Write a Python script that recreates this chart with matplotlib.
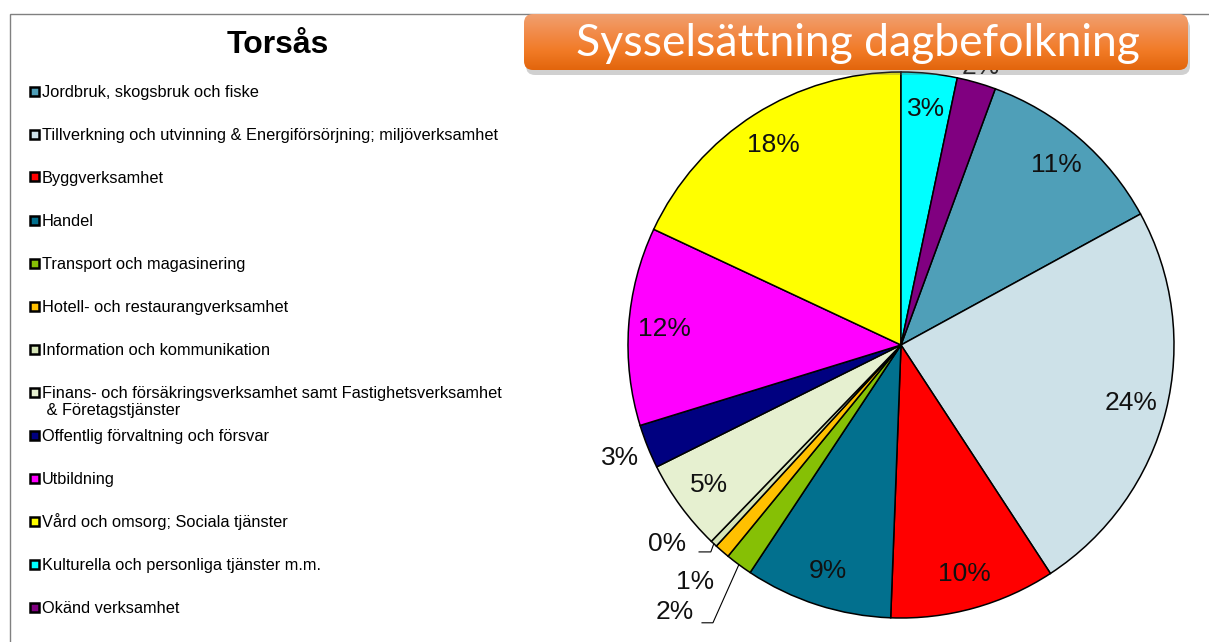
import matplotlib.pyplot as plt
import numpy as np
from matplotlib.patches import Rectangle, FancyBboxPatch
from matplotlib.colors import LinearSegmentedColormap

W, H = 1209, 642

# data (share of day population employment, %)
categories = [
    "Jordbruk, skogsbruk och fiske",
    "Tillverkning och utvinning & Energiförsörjning; miljöverksamhet",
    "Byggverksamhet",
    "Handel",
    "Transport och magasinering",
    "Hotell- och restaurangverksamhet",
    "Information och kommunikation",
    "Finans- och försäkringsverksamhet samt Fastighetsverksamhet\n & Företagstjänster",
    "Offentlig förvaltning och försvar",
    "Utbildning",
    "Vård och omsorg; Sociala tjänster",
    "Kulturella och personliga tjänster m.m.",
    "Okänd verksamhet",
]
values = [11.4, 23.7, 9.8, 8.7, 1.6, 0.9, 0.4, 5.4, 2.6, 11.7, 18.0, 3.3, 2.3]
colors = ["#4f9fb8", "#cde1e8", "#ff0000", "#02708e", "#86c005", "#ffc000",
          "#d5e4b6", "#e6f0d0", "#000080", "#ff00ff", "#ffff00", "#00ffff", "#800080"]

title = "Torsås"
banner = "Sysselsättning dagbefolkning"

fig = plt.figure(figsize=(W / 100, H / 100), dpi=100)


def fx(px):
    return px / W


def fy(py):
    return 1 - py / H


# outer frame (partially visible)
fig.add_artist(Rectangle((fx(10), fy(700)), fx(1400), (700 - 14) / H,
                         transform=fig.transFigure, fill=False,
                         edgecolor="#808080", lw=1.0))

# pie
cx, cy, R = 901, 345, 273
ax = fig.add_axes([fx(cx - 1.2 * R), fy(cy + 1.2 * R), 2.4 * R / W, 2.4 * R / H])

total = sum(values)
start = 90 - 360 * (values[-2] + values[-1]) / total
wedges, _, autotexts = ax.pie(
    values, colors=colors, startangle=start, counterclock=False,
    autopct="%.0f%%", pctdistance=0.87, radius=1.0,
    wedgeprops=dict(edgecolor="black", linewidth=1.1),
    textprops=dict(fontsize=19, family="Liberation Sans", color="#111111"))
ax.set_xlim(-1.2, 1.2)
ax.set_ylim(-1.2, 1.2)
ax.axis("off")


def edge(i):
    w = wedges[i]
    a = np.deg2rad((w.theta1 + w.theta2) / 2)
    return np.array([np.cos(a), np.sin(a)])


# labels placed outside for the small slices
for i, r in [(8, 1.11), (5, 1.15), (12, 1.06)]:
    autotexts[i].set_position(edge(i) * r)

# Information (0%) with leader
e = edge(6)
autotexts[6].set_position(e + np.array([-0.17, -0.0]))
pts = np.array([e, e + [-0.011, -0.03], e + [-0.054, -0.03]])
ax.plot(pts[:, 0], pts[:, 1], color="black", lw=0.8)

# Transport (2%) with leader
e = edge(4)
autotexts[4].set_position(e + np.array([-0.235, -0.175]))
pts = np.array([e, e + [-0.095, -0.213], e + [-0.135, -0.213]])
ax.plot(pts[:, 0], pts[:, 1], color="black", lw=0.8)

# left side title + legend
fig.text(fx(278), fy(45), title, fontsize=23, fontweight="bold",
         family="Liberation Sans", ha="center", va="center")

y0, step = 91, 43
for i, (lab, col) in enumerate(zip(categories, colors)):
    yc = y0 + step * i
    fig.add_artist(Rectangle((fx(30), fy(yc + 4.5)), 9 / W, 9 / H,
                             transform=fig.transFigure, facecolor=col,
                             edgecolor="black", lw=1.8))
    for j, line in enumerate(lab.split("\n")):
        fig.text(fx(42), fy(yc + 6 + 17 * j), line, fontsize=11.8,
                 family="Liberation Sans", ha="left", va="baseline")

# orange banner
bx0, by0, bx1, by1 = 524, 14, 1188, 70
bax = fig.add_axes([fx(bx0), fy(by1), (bx1 - bx0) / W, (by1 - by0) / H], zorder=5)
bax.set_xlim(0, bx1 - bx0)
bax.set_ylim(0, by1 - by0)
bax.axis("off")
shadow = FancyBboxPatch((2, -5), bx1 - bx0, by1 - by0,
                        boxstyle="round,pad=0,rounding_size=9",
                        facecolor="#666666", edgecolor="none", alpha=0.3,
                        clip_on=False, zorder=0)
bax.add_patch(shadow)
box = FancyBboxPatch((0, 0), bx1 - bx0, by1 - by0,
                     boxstyle="round,pad=0,rounding_size=9",
                     facecolor="none", edgecolor="none", zorder=1)
bax.add_patch(box)
cmap = LinearSegmentedColormap.from_list(
    "orange", ["#e2650c", "#f17a25", "#f28b4a", "#f0a070"])
grad = np.linspace(0, 1, 256).reshape(-1, 1)
im = bax.imshow(grad, cmap=cmap, origin="lower", aspect="auto",
                extent=[0, bx1 - bx0, 0, by1 - by0], zorder=2)
im.set_clip_path(box)
bax.text((bx1 - bx0) / 2 + 1.5, (by1 - by0) / 2 - 1, banner, color="white",
         fontsize=32, family="Lato", ha="center", va="center", zorder=3)

fig.savefig("out.png", dpi=100)
